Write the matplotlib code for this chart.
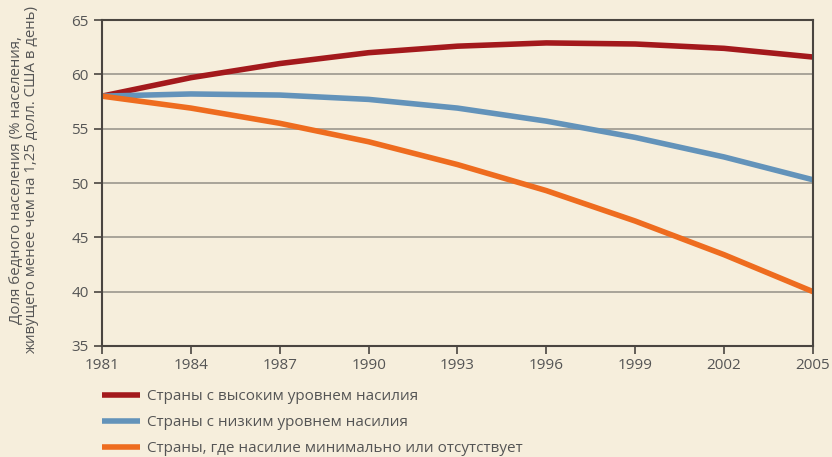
import matplotlib.pyplot as plt

years = [1981, 1984, 1987, 1990, 1993, 1996, 1999, 2002, 2005]
high_violence = [58.0, 59.7, 61.0, 62.0, 62.6, 62.9, 62.8, 62.4, 61.6]
low_violence = [58.0, 58.2, 58.1, 57.7, 56.9, 55.7, 54.2, 52.4, 50.3]
no_violence = [58.0, 56.9, 55.5, 53.8, 51.7, 49.3, 46.5, 43.4, 40.0]
labels = ['Страны с высоким уровнем насилия',
          'Страны с низким уровнем насилия',
          'Страны, где насилие минимально или отсутствует']
colors = ['#A3191C', '#6393BA', '#EE6C1F']

bg = '#F6EEDC'
plt.rcParams['font.family'] = ['Open Sans', 'DejaVu Sans']

fig = plt.figure(figsize=(8.32, 4.57), dpi=100, facecolor=bg)
ax = fig.add_axes([0.1226, 0.243, 0.8545, 0.713])
ax.set_facecolor(bg)

for vals, lab, c in zip([high_violence, low_violence, no_violence], labels, colors):
    ax.plot(years, vals, color=c, lw=4, label=lab, solid_capstyle='butt')

ax.set_xlim(1981, 2005)
ax.set_ylim(35, 65)
ax.set_xticks(years)
ax.set_yticks(range(35, 66, 5))
ax.yaxis.grid(True, color='#9b978d', lw=1.2)
ax.set_axisbelow(True)
for s in ['left', 'bottom', 'right', 'top']:
    ax.spines[s].set_color('#4a4540')
    ax.spines[s].set_linewidth(1.5)
ax.tick_params(axis='both', labelsize=11, labelcolor='#555555', color='#4a4540',
               length=6, width=1.2)
ax.tick_params(axis='x', pad=3)
ax.set_ylabel('Доля бедного населения (% населения,\nживущего менее чем на 1,25 долл. США в день)',
              fontsize=10.8, color='#555555', linespacing=1.0)
ax.yaxis.set_label_coords(-0.088, 0.51)

fig.legend(loc='upper left', bbox_to_anchor=(0.122, 0.148), frameon=False,
           fontsize=11, labelcolor='#555555', handlelength=2.5, handletextpad=0.5,
           labelspacing=0.72, borderaxespad=0, borderpad=0)

fig.savefig('out.png', dpi=100, facecolor=bg)
